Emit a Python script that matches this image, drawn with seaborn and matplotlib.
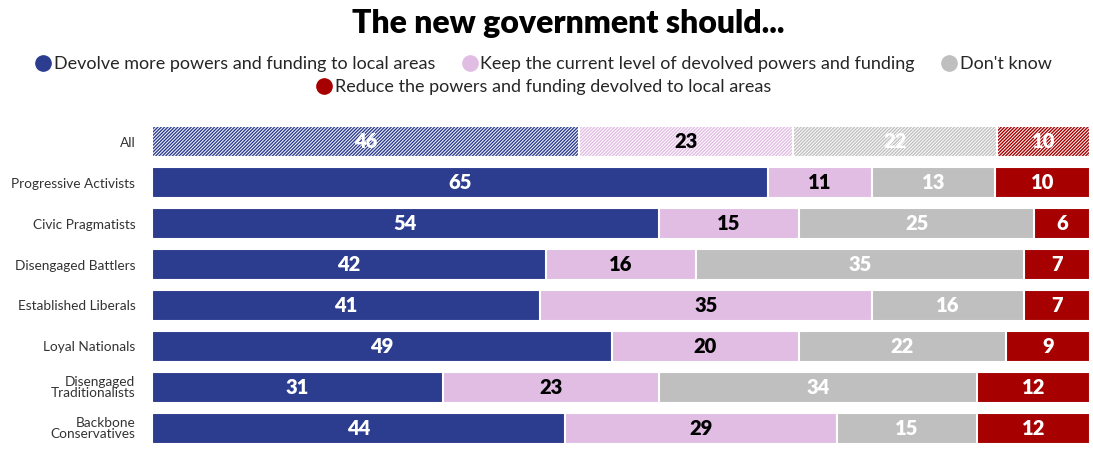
import numpy as np
import pandas as pd
import matplotlib.pyplot as plt
import seaborn as sns
from matplotlib.lines import Line2D

# data
groups = ["All", "Progressive Activists", "Civic Pragmatists", "Disengaged Battlers",
          "Established Liberals", "Loyal Nationals", "Disengaged\nTraditionalists",
          "Backbone\nConservatives"]
segments = ["Devolve more powers and funding to local areas",
            "Keep the current level of devolved powers and funding",
            "Don't know",
            "Reduce the powers and funding devolved to local areas"]
devolve = [46, 65, 54, 42, 41, 49, 31, 44]
keep = [23, 11, 15, 16, 35, 20, 23, 29]
dont_know = [22, 13, 25, 35, 16, 22, 34, 15]
reduce = [10, 10, 6, 7, 7, 9, 12, 12]

colors = ["#2c3d90", "#e1bde3", "#bfbfbf", "#a60000"]
text_colors = ["white", "black", "white", "white"]

sns.set_style("white")
plt.rcParams["font.family"] = ["Lato", "DejaVu Sans"]
plt.rcParams["hatch.linewidth"] = 0.7

df = pd.DataFrame({"group": groups, "devolve": devolve, "keep": keep,
                   "dont_know": dont_know, "reduce": reduce})
cols = ["devolve", "keep", "dont_know", "reduce"]
vals = df[cols].to_numpy(float)
share = vals / vals.sum(axis=1, keepdims=True) * 100  # bars are stretched to full width
cum = share.cumsum(axis=1)

fig = plt.figure(figsize=(10.93, 4.61), dpi=100)
ax = fig.add_axes([152 / 1093, 1 - 448.5 / 461, 939 / 1093, 327 / 461])

# stacked bars: draw cumulative totals from the right-most segment back
for j in reversed(range(4)):
    plot_df = pd.DataFrame({"group": groups, "x": cum[:, j]})
    sns.barplot(data=plot_df, x="x", y="group", color=colors[j], width=0.76,
                edgecolor="white", linewidth=1.5, saturation=1, errorbar=None,
                orient="h", ax=ax)

# hatch the "All" row
for cont in ax.containers:
    cont.patches[0].set_hatch("//////////")

for i in range(len(groups)):
    for j in range(4):
        ax.text(cum[i, j] - share[i, j] / 2, i, f"{int(vals[i, j])}",
                ha="center", va="center", fontsize=14.5, fontweight="heavy",
                color=text_colors[j])

ax.set_xlim(0, 100.1)
ax.set_xlabel("")
ax.set_ylabel("")
ax.set_xticks([])
ax.tick_params(axis="y", length=0, pad=12)
for lab in ax.get_yticklabels():
    lab.set_fontsize(9.8)
    lab.set_color("#333333")
    lab.set_linespacing(0.85)
sns.despine(ax=ax, left=True, bottom=True)

fig.text(0.52, 1 - 23 / 461, "The new government should...", ha="center", va="center",
         fontsize=23, fontweight="heavy", color="black")

handles = [Line2D([], [], marker="o", linestyle="", markersize=11,
                  markerfacecolor=c, markeredgecolor=c) for c in colors]
fig.legend(handles[:3], segments[:3], ncol=3, loc="center",
           bbox_to_anchor=(0.496, 1 - 64 / 461), frameon=False, fontsize=13,
           handletextpad=0.0, columnspacing=1.3, handlelength=1.2)
fig.legend(handles[3:], segments[3:], ncol=1, loc="center",
           bbox_to_anchor=(0.496, 1 - 87 / 461), frameon=False, fontsize=13,
           handletextpad=0.0, handlelength=1.2)

fig.savefig("out.png", dpi=100, facecolor="white")
